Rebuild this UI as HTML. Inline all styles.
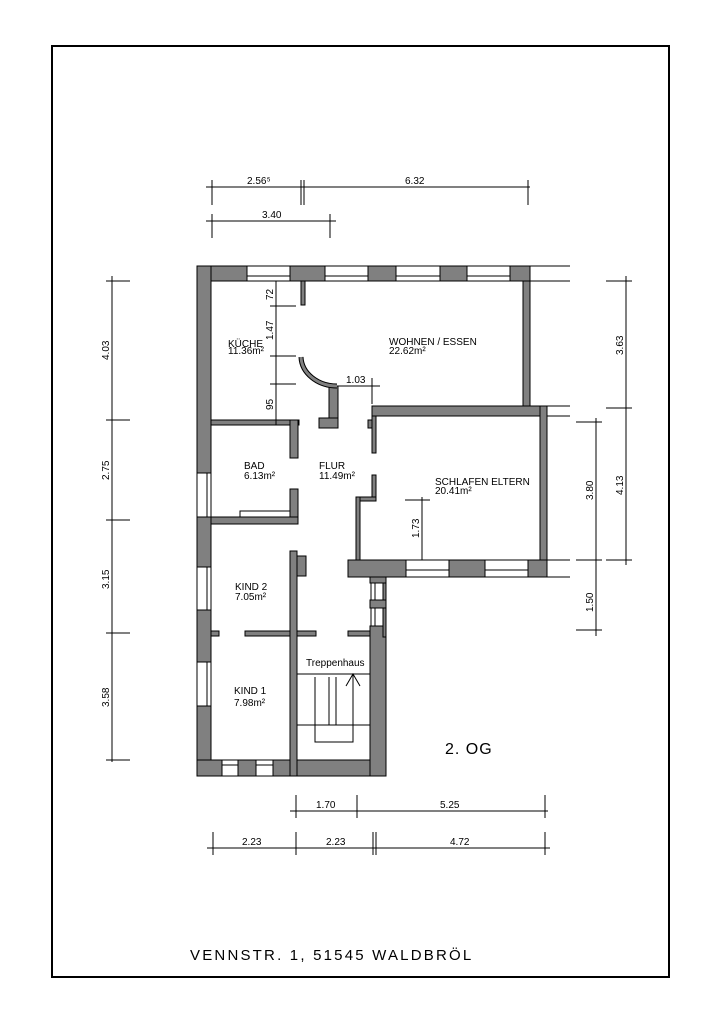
<!DOCTYPE html>
<html><head><meta charset="utf-8"><style>
html,body{margin:0;padding:0;background:#fff;}
svg{display:block;}
text{font-family:"Liberation Sans Narrow","Liberation Sans",sans-serif;fill:#000;}
</style></head><body>
<svg width="724" height="1024" viewBox="0 0 724 1024" xmlns="http://www.w3.org/2000/svg">
<rect x="52" y="46" width="617" height="931" fill="none" stroke="#000" stroke-width="2"/>
<g fill="#808080" stroke="#000" stroke-width="1">
<rect x="197" y="266" width="50" height="15"/>
<rect x="290" y="266" width="35" height="15"/>
<rect x="368" y="266" width="28" height="15"/>
<rect x="440" y="266" width="27" height="15"/>
<rect x="510" y="266" width="20" height="15"/>
<rect x="197" y="266" width="14" height="207"/>
<rect x="197" y="517" width="14" height="50"/>
<rect x="197" y="610" width="14" height="52"/>
<rect x="197" y="706" width="14" height="70"/>
<rect x="197" y="760" width="25" height="16"/>
<rect x="238" y="760" width="18" height="16"/>
<rect x="273" y="760" width="113" height="16"/>
<rect x="370" y="626" width="16" height="150"/>
<rect x="383" y="577" width="3" height="60"/>
<rect x="370" y="600" width="16" height="8"/>
<rect x="523" y="281" width="7" height="125"/>
<rect x="372" y="406" width="175" height="10"/>
<rect x="540" y="406" width="7" height="171"/>
<rect x="348" y="560" width="58" height="17"/>
<rect x="449" y="560" width="36" height="17"/>
<rect x="528" y="560" width="19" height="17"/>
<rect x="370" y="577" width="16" height="6"/>
<rect x="372" y="416" width="4" height="37"/>
<rect x="368" y="420" width="4" height="8"/>
<rect x="372" y="475" width="4" height="25"/>
<rect x="356" y="497" width="20" height="4"/>
<rect x="356" y="497" width="4" height="63"/>
<rect x="211" y="420" width="88" height="5"/>
<rect x="290" y="420" width="8" height="38"/>
<rect x="290" y="489" width="8" height="35"/>
<rect x="211" y="517" width="87" height="7"/>
<rect x="301" y="281" width="4" height="24"/>
<rect x="329" y="386" width="9" height="42"/>
<rect x="319" y="418" width="19" height="10"/>
<rect x="290" y="551" width="7" height="225"/>
<rect x="297" y="556" width="9" height="20"/>
<rect x="245" y="631" width="45" height="5"/>
<rect x="211" y="631" width="8" height="5"/>
<rect x="297" y="631" width="19" height="5"/>
<rect x="348" y="631" width="22" height="5"/>
</g>
<g fill="none" stroke="#000" stroke-width="1">
<rect x="247" y="266" width="43" height="15"/><line x1="247" y1="276" x2="290" y2="276"/>
<rect x="325" y="266" width="43" height="15"/><line x1="325" y1="276" x2="368" y2="276"/>
<rect x="396" y="266" width="44" height="15"/><line x1="396" y1="276" x2="440" y2="276"/>
<rect x="467" y="266" width="43" height="15"/><line x1="467" y1="276" x2="510" y2="276"/>
<rect x="406" y="560" width="43" height="17"/><line x1="406" y1="570" x2="449" y2="570"/>
<rect x="485" y="560" width="43" height="17"/><line x1="485" y1="570" x2="528" y2="570"/>
<rect x="197" y="473" width="14" height="44"/><line x1="207" y1="473" x2="207" y2="517"/>
<rect x="197" y="567" width="14" height="43"/><line x1="207" y1="567" x2="207" y2="610"/>
<rect x="197" y="662" width="14" height="44"/><line x1="207" y1="662" x2="207" y2="706"/>
<rect x="222" y="760" width="16" height="16"/><line x1="222" y1="765" x2="238" y2="765"/>
<rect x="256" y="760" width="17" height="16"/><line x1="256" y1="765" x2="273" y2="765"/>
<rect x="371" y="583" width="12" height="17"/><line x1="375" y1="583" x2="375" y2="600"/>
<rect x="371" y="608" width="12" height="18"/><line x1="375" y1="608" x2="375" y2="626"/>
<rect x="240" y="511" width="50" height="6"/>
<line x1="530" y1="266" x2="570" y2="266"/><line x1="530" y1="281" x2="570" y2="281"/>
<line x1="530" y1="406" x2="570" y2="406"/><line x1="547" y1="416" x2="570" y2="416"/>
<line x1="547" y1="560" x2="570" y2="560"/><line x1="547" y1="577" x2="570" y2="577"/>
<path d="M301 357 A36 30 0 0 0 337 386" stroke-width="5" stroke="#000"/>
<path d="M301 357 A36 30 0 0 0 337 386" stroke-width="3" stroke="#808080"/>
<line x1="297" y1="674" x2="370" y2="674"/>
<line x1="297" y1="725" x2="370" y2="725"/>
<polyline points="315,677 315,742 353,742 353,674"/>
<line x1="329" y1="677" x2="329" y2="725"/>
<line x1="336" y1="677" x2="336" y2="725"/>
<polyline points="346,686 353,674 360,686"/>
</g>
<g stroke="#000" stroke-width="1" fill="none">
<line x1="206" y1="187" x2="530" y2="187"/>
<line x1="212" y1="180" x2="212" y2="205"/><line x1="301" y1="180" x2="301" y2="205"/><line x1="304" y1="180" x2="304" y2="205"/><line x1="528" y1="180" x2="528" y2="205"/>
<line x1="206" y1="221" x2="336" y2="221"/>
<line x1="212" y1="214" x2="212" y2="238"/><line x1="330" y1="214" x2="330" y2="238"/>
<line x1="112" y1="276" x2="112" y2="762"/>
<line x1="106" y1="281" x2="130" y2="281"/><line x1="106" y1="420" x2="130" y2="420"/><line x1="106" y1="520" x2="130" y2="520"/><line x1="106" y1="633" x2="130" y2="633"/><line x1="106" y1="760" x2="130" y2="760"/>
<line x1="626" y1="276" x2="626" y2="565"/>
<line x1="606" y1="281" x2="632" y2="281"/><line x1="606" y1="408" x2="632" y2="408"/><line x1="606" y1="560" x2="632" y2="560"/>
<line x1="596" y1="418" x2="596" y2="636"/>
<line x1="576" y1="422" x2="602" y2="422"/><line x1="576" y1="560" x2="602" y2="560"/><line x1="576" y1="630" x2="602" y2="630"/>
<line x1="290" y1="811" x2="548" y2="811"/>
<line x1="296" y1="795" x2="296" y2="818"/><line x1="357" y1="795" x2="357" y2="818"/><line x1="545" y1="795" x2="545" y2="818"/>
<line x1="207" y1="848" x2="550" y2="848"/>
<line x1="213" y1="832" x2="213" y2="855"/><line x1="296" y1="832" x2="296" y2="855"/><line x1="373" y1="832" x2="373" y2="855"/><line x1="376" y1="832" x2="376" y2="855"/><line x1="545" y1="832" x2="545" y2="855"/>
<line x1="276" y1="281" x2="276" y2="425"/>
<line x1="270" y1="306" x2="296" y2="306"/><line x1="270" y1="356" x2="296" y2="356"/><line x1="270" y1="384" x2="296" y2="384"/>
<line x1="338" y1="386" x2="380" y2="386"/><line x1="372" y1="378" x2="372" y2="404"/>
<line x1="422" y1="497" x2="422" y2="560"/><line x1="405" y1="500" x2="430" y2="500"/>
</g>
<g font-size="10">
<text x="247" y="184">2.56⁵</text>
<text x="405" y="184">6.32</text>
<text x="262" y="218">3.40</text>
<text x="242" y="845">2.23</text><text x="326" y="845">2.23</text><text x="450" y="845">4.72</text>
<text x="316" y="808">1.70</text><text x="440" y="808">5.25</text>
<text transform="translate(109,360) rotate(-90)">4.03</text>
<text transform="translate(109,480) rotate(-90)">2.75</text>
<text transform="translate(109,589) rotate(-90)">3.15</text>
<text transform="translate(109,707) rotate(-90)">3.58</text>
<text transform="translate(623,355) rotate(-90)">3.63</text>
<text transform="translate(623,495) rotate(-90)">4.13</text>
<text transform="translate(593,500) rotate(-90)">3.80</text>
<text transform="translate(593,612) rotate(-90)">1.50</text>
<text transform="translate(273,300) rotate(-90)">72</text>
<text transform="translate(273,340) rotate(-90)">1.47</text>
<text transform="translate(273,410) rotate(-90)">95</text>
<text transform="translate(419,538) rotate(-90)">1.73</text>
<text x="346" y="383">1.03</text>
<text x="228" y="347">KÜCHE</text><text x="228" y="354">11.36m²</text>
<text x="389" y="345">WOHNEN  /  ESSEN</text><text x="389" y="354">22.62m²</text>
<text x="244" y="469">BAD</text><text x="244" y="479">6.13m²</text>
<text x="319" y="469">FLUR</text><text x="319" y="479">11.49m²</text>
<text x="435" y="485">SCHLAFEN  ELTERN</text><text x="435" y="494">20.41m²</text>
<text x="235" y="590">KIND  2</text><text x="235" y="600">7.05m²</text>
<text x="234" y="694">KIND  1</text><text x="234" y="706">7.98m²</text>
<text x="306" y="666" font-family="Liberation Sans">Treppenhaus</text>
</g>
<text x="445" y="754" font-size="16" font-family="Liberation Sans" letter-spacing="1">2. OG</text>
<text x="190" y="960" font-size="15" font-family="Liberation Sans" letter-spacing="2.2">VENNSTR. 1, 51545 WALDBRÖL</text>
</svg>
</body></html>
